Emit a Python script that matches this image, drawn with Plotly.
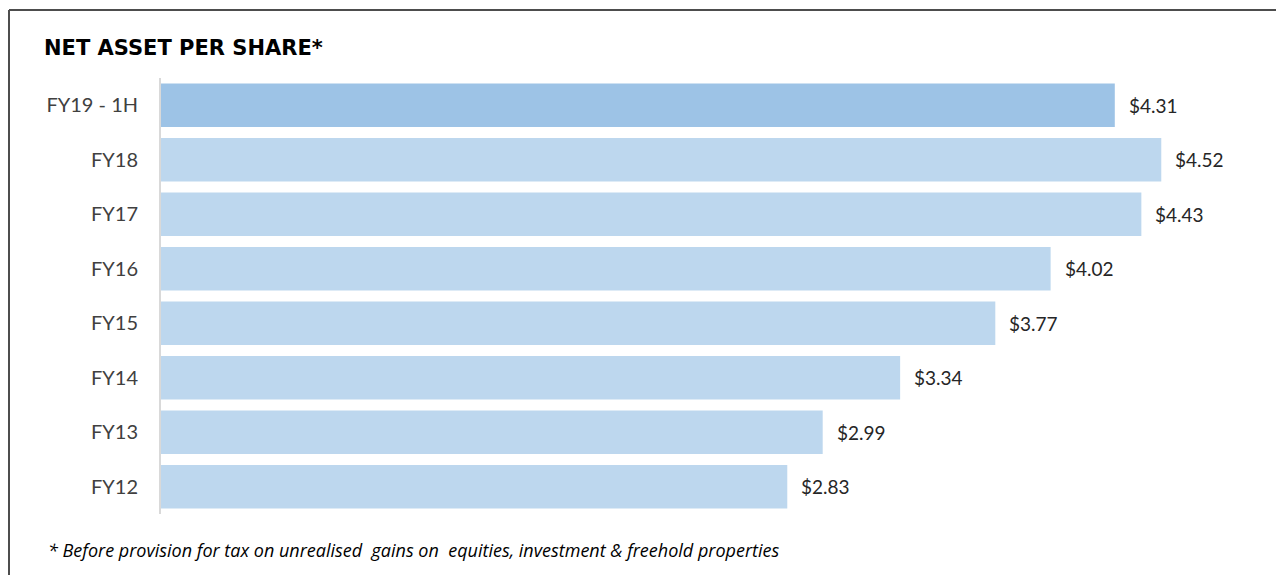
import plotly.graph_objects as go

categories = ["FY19 - 1H", "FY18", "FY17", "FY16", "FY15", "FY14", "FY13", "FY12"]
values = [4.31, 4.52, 4.43, 4.02, 3.77, 3.34, 2.99, 2.83]
labels = ["$4.31", "$4.52", "$4.43", "$4.02", "$3.77", "$3.34", "$2.99", "$2.83"]
colors = ["#9DC3E6"] + ["#BDD7EE"] * 7

# page body has an 8px margin; work in reference pixel coords relative to plot area
L, R, T, B = 161, 1261, 78, 514
PW, PH = R - L, B - T


def px(x):
    return (x - L) / PW


def py(y):
    return (B - y) / PH


fig = go.Figure()
fig.add_trace(go.Bar(
    y=categories, x=values, orientation="h", width=0.8,
    marker=dict(color=colors, line=dict(width=0)),
    hoverinfo="skip",
))

for c, v, t in zip(categories, values, labels):
    fig.add_annotation(x=v, y=c, text=t, showarrow=False, xanchor="left",
                       xshift=12, font=dict(family="Lato, Open Sans, sans-serif", size=19, color="#262626"))

fig.add_annotation(xref="paper", yref="paper", x=px(42), y=py(48),
                   text="<b>NET ASSET PER SHARE*</b>", showarrow=False, xanchor="left", yanchor="middle",
                   font=dict(family="DejaVu Sans, sans-serif", size=21, color="#000000"))
fig.add_annotation(xref="paper", yref="paper", x=px(46), y=py(550),
                   text="<i>* Before provision for tax on unrealised  gains on  equities, investment &amp; freehold properties</i>",
                   showarrow=False, xanchor="left", yanchor="middle",
                   font=dict(family="Open Sans, sans-serif", size=18, color="#000000"))

# frame lines (top and left)
fig.add_shape(type="line", xref="paper", yref="paper", x0=px(9), x1=px(1290),
              y0=py(10), y1=py(10), line=dict(color="#4d4d4d", width=2))
fig.add_shape(type="line", xref="paper", yref="paper", x0=px(9), x1=px(9),
              y0=py(10), y1=py(580), line=dict(color="#4d4d4d", width=2))

fig.update_layout(
    width=1276, height=567,
    margin=dict(l=L - 8, r=1284 - R, t=T - 8, b=575 - B),
    plot_bgcolor="white", paper_bgcolor="white",
    showlegend=False, bargap=0.2,
    xaxis=dict(range=[0, PW / 221.3], visible=False, fixedrange=True),
    yaxis=dict(categoryorder="array", categoryarray=categories, autorange="reversed",
               showline=True, linecolor="#d9d9d9", linewidth=2, showgrid=False,
               ticks="", ticklabelstandoff=17,
               tickfont=dict(family="Lato, Open Sans, sans-serif", size=20, color="#404040")),
)

fig.write_html("out.html")
